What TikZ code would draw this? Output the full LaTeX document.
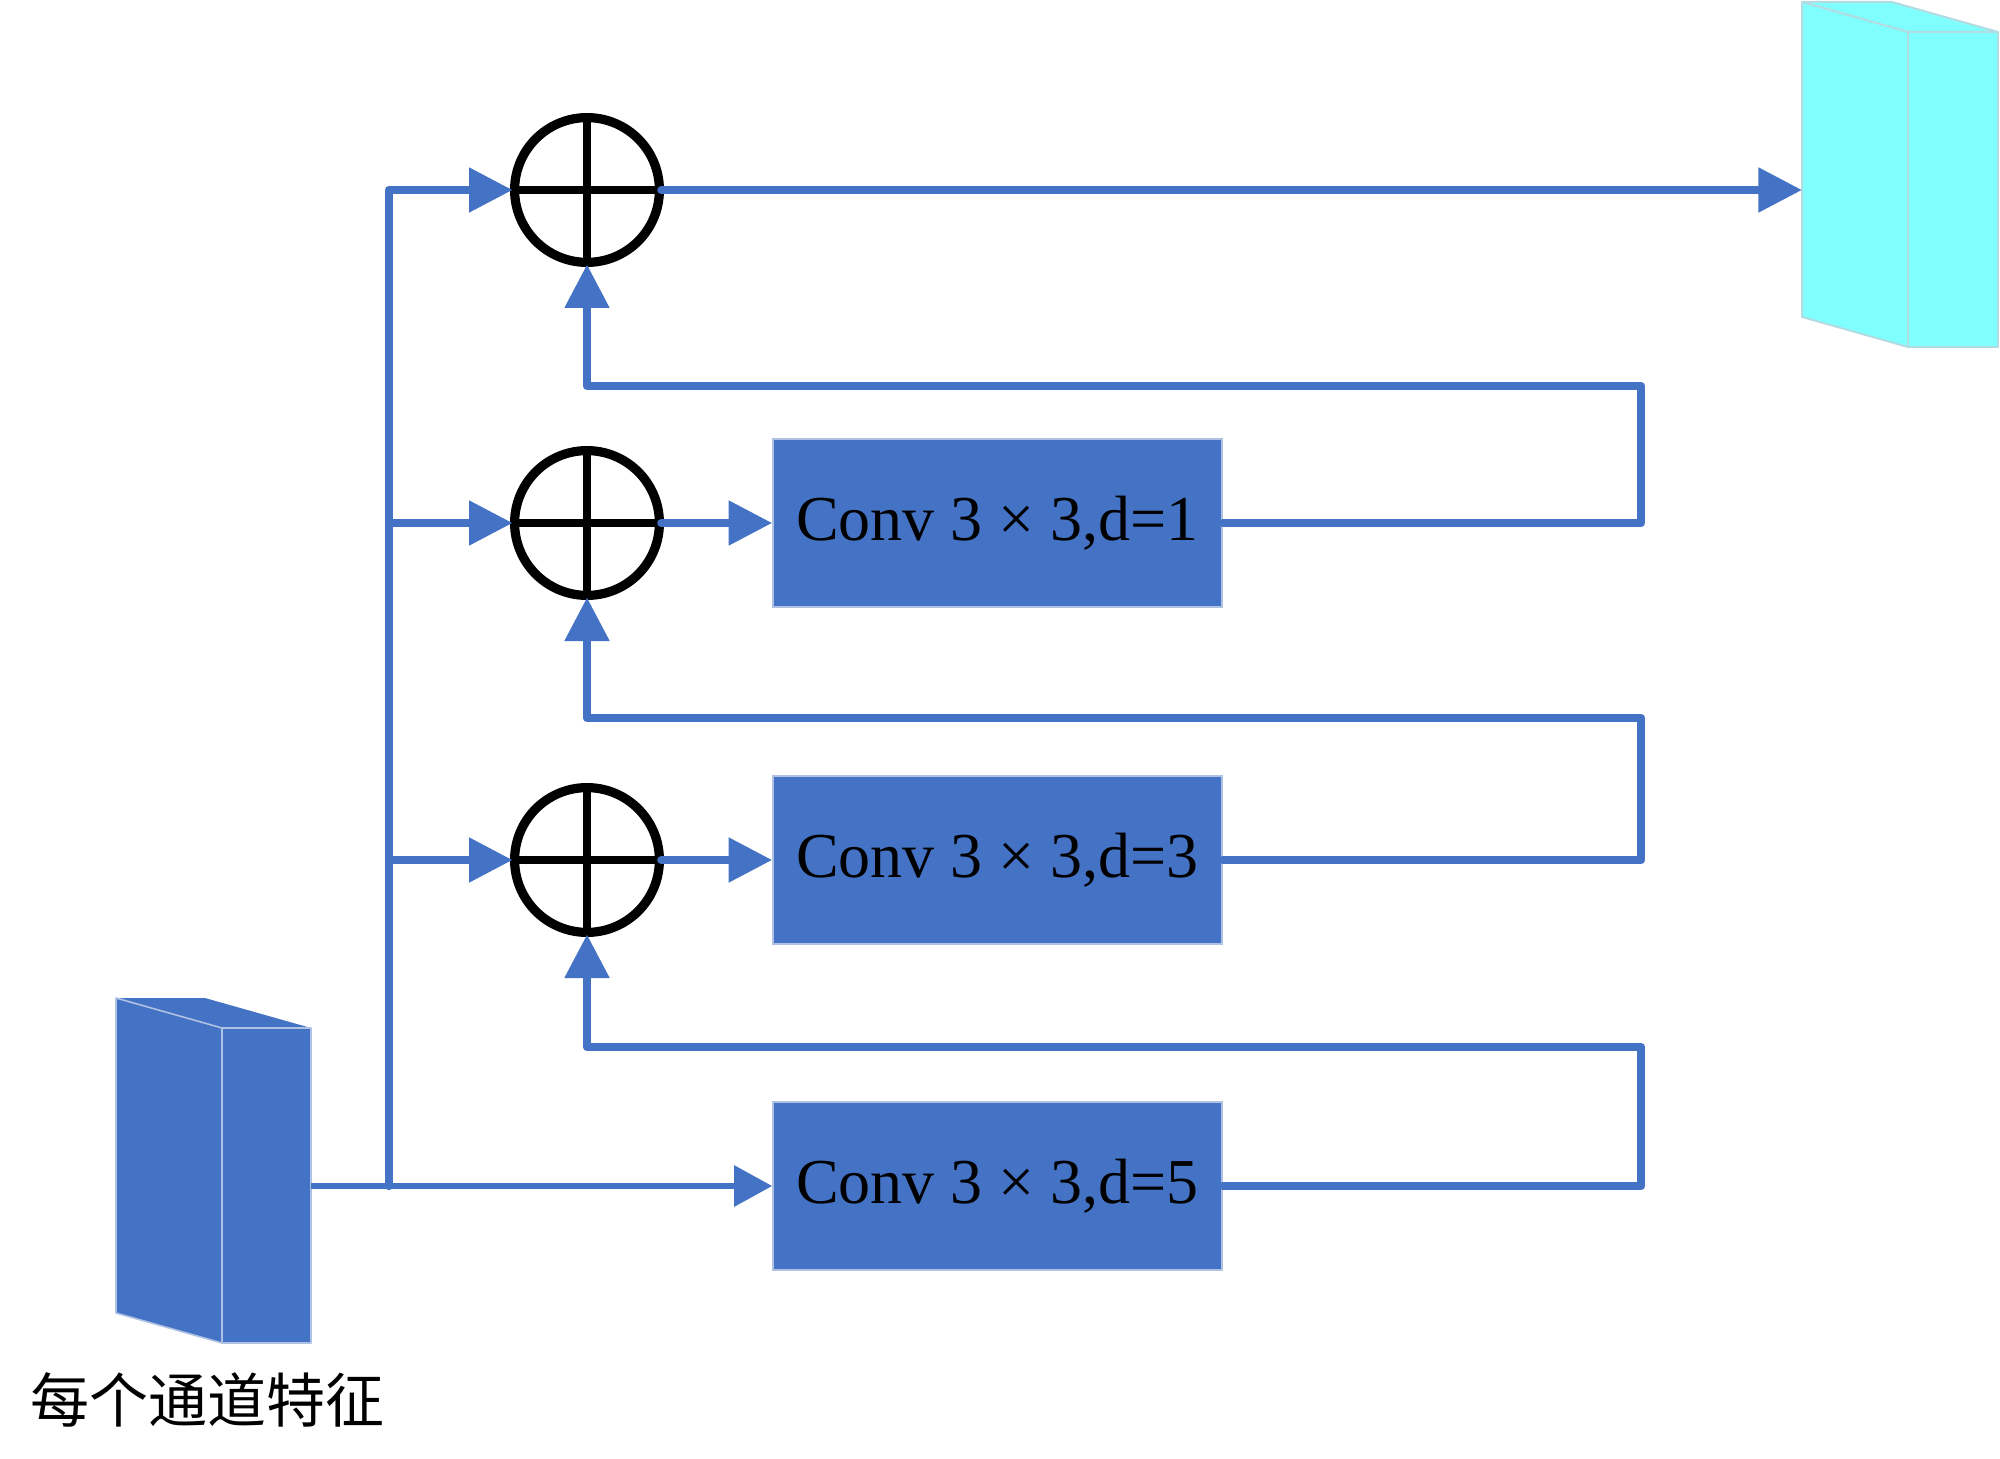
\documentclass[tikz,border=0pt]{standalone}
\usepackage{fontspec}
\setmainfont{Liberation Serif}
\newfontfamily\cjk{Noto Sans CJK SC}
\usepackage{xcolor}
\usepackage{tikz}
\usetikzlibrary{positioning, arrows.meta}
\definecolor{conv}{RGB}{68,114,196}
\definecolor{convedge}{RGB}{176,194,228}
\definecolor{aqua}{RGB}{128,255,255}
\definecolor{aquaedge}{RGB}{178,220,226}

\begin{document}
\begin{tikzpicture}[x=0.5pt, y=-0.5pt,
  convbox/.style={draw=convedge, line width=0.8pt, fill=conv, minimum width=224.5pt, minimum height=84pt, inner sep=0pt, font=\fontsize{32pt}{36pt}\selectfont},
  sum/.style={draw, circle, line width=4.6pt, minimum size=72.4pt, inner sep=0pt, outer sep=1pt},
  cross/.style={line width=4.3pt},
  flow/.style={conv, line width=4.2pt, line cap=round, line join=round},
  head/.style={flow, -{Triangle[length=21.8pt, width=21.5pt]}},
  thinhead/.style={conv, line width=3pt, -{Triangle[length=19pt, width=20pt]}},
  blockface/.style={fill=conv, draw=convedge, line width=0.8pt, line join=round},
  aquaface/.style={fill=aqua, draw=aquaedge, line width=1pt, line join=round}]
\useasboundingbox (0,0) rectangle (2000,1459);
\node[sum] (s1) at (587,190) {};
\node[sum] (s2) at (587,523) {};
\node[sum] (s3) at (587,860) {};
\draw[cross] (s1.north) -- (s1.south);
\draw[cross] (s1.west) -- (s1.east);
\draw[cross] (s2.north) -- (s2.south);
\draw[cross] (s2.west) -- (s2.east);
\draw[cross] (s3.north) -- (s3.south);
\draw[cross] (s3.west) -- (s3.east);
\node[convbox] (c1) at (997.5,523) {\raisebox{-1.4pt}{Conv 3 × 3,d=1}};
\node[convbox] (c3) at (997.5,860) {\raisebox{-1.4pt}{Conv 3 × 3,d=3}};
\node[convbox] (c5) at (997.5,1186) {\raisebox{-1.4pt}{Conv 3 × 3,d=5}};
% input block
\fill[conv] (116,998) -- (205,998) -- (311,1028) -- (222,1028) -- cycle;
\draw[blockface] (116,998) -- (222,1028) -- (222,1343) -- (116,1313) -- cycle;
\draw[blockface] (222,1028) -- (311,1028) -- (311,1343) -- (222,1343) -- cycle;
\coordinate (feat) at (311,1186);
\node[font=\cjk\fontsize{29.5pt}{34pt}\selectfont] (label) at (207,1400) {每个通道特征};
% output block
\fill[aqua] (1802,2) -- (1892,2) -- (1998,32) -- (1908,32) -- cycle;
\draw[aquaface] (1802,2) -- (1892,2) -- (1998,32) -- (1908,32) -- cycle;
\draw[aquaface] (1802,2) -- (1908,32) -- (1908,347) -- (1802,317) -- cycle;
\draw[aquaface] (1908,32) -- (1998,32) -- (1998,347) -- (1908,347) -- cycle;
\coordinate (out) at (1802,190);
% trunk and branches
\coordinate (t1) at (389,190);
\coordinate (t2) at (389,523);
\coordinate (t3) at (389,860);
\coordinate (t5) at (389,1186);
\draw[thinhead] (feat) -- (c5.west);
\draw[head] (t5) -- (t1) -- (s1.west);
\draw[head] (t2) -- (s2.west);
\draw[head] (t3) -- (s3.west);
\draw[head] (s1.east) -- (out);
\draw[head] (s2.east) -- (c1.west);
\draw[head] (s3.east) -- (c3.west);
% feedback
\coordinate (f1) at (1641,386);
\coordinate (f3) at (1641,718);
\coordinate (f5) at (1641,1047);
\draw[head] (c1.east) -| (f1) -| (s1.south);
\draw[head] (c3.east) -| (f3) -| (s2.south);
\draw[head] (c5.east) -| (f5) -| (s3.south);
\end{tikzpicture}
\end{document}
